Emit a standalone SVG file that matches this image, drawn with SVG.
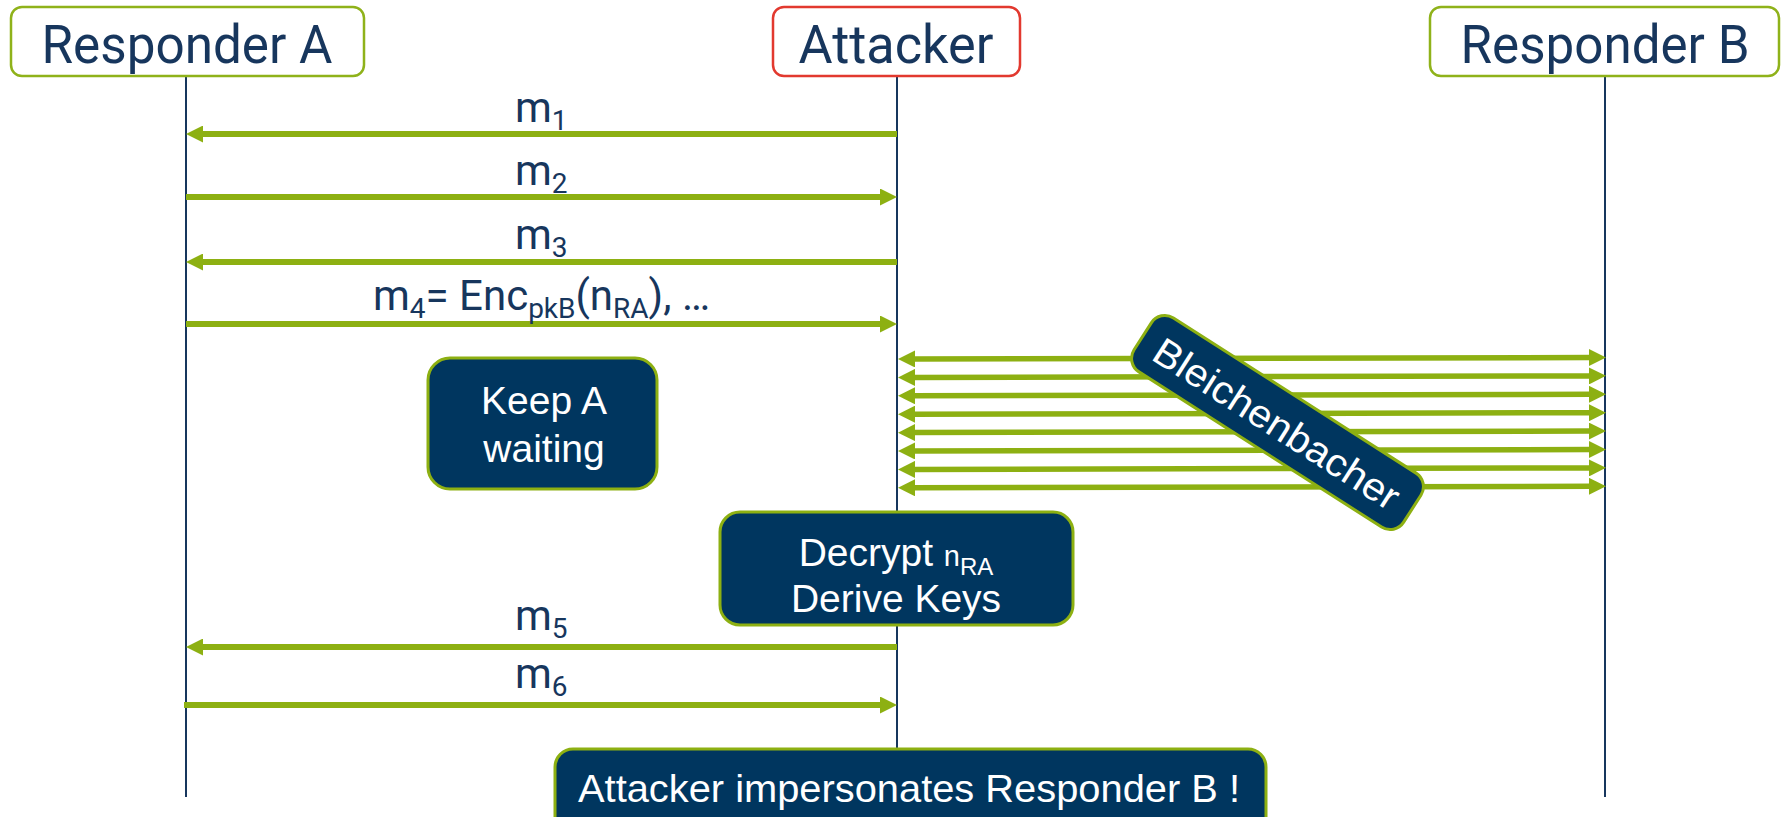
<svg xmlns="http://www.w3.org/2000/svg" width="1785" height="817" viewBox="0 0 1785 817">
  <style>
    .head { fill: #ffffff; stroke-width: 2.5; }
    .head-ok { stroke: #8fb21a; }
    .head-bad { stroke: #e2392f; }
    .head-text { font-family: Roboto, "Liberation Sans", sans-serif; font-size: 53px; fill: #17365d; text-anchor: middle; }
    .life { stroke: #17365d; stroke-width: 2; fill: none; }
    .msg { stroke: #8db012; stroke-width: 6; fill: none; marker-end: url(#tip); }
    .probe { stroke: #8db012; stroke-width: 5.5; fill: none; marker-start: url(#tip); marker-end: url(#tip); }
    .lbl { font-family: Roboto, "Liberation Sans", sans-serif; font-size: 42px; fill: #17365d; }
    .sub { font-size: 28px; }
    .note { fill: #00365f; stroke: #8db012; stroke-width: 3; }
    .note-text { font-family: "Liberation Sans", Arial, sans-serif; font-size: 39px; fill: #ffffff; text-anchor: middle; }
  </style>
  <defs>
    <marker id="tip" viewBox="0 0 17 17" markerWidth="17" markerHeight="17" markerUnits="userSpaceOnUse" refX="3" refY="8.5" orient="auto-start-reverse">
      <path d="M0,0 L17,8.5 L0,17 Z" fill="#8db012"/>
    </marker>
  </defs>

  <rect width="1785" height="817" fill="#ffffff"/>

  <!-- participants with their lifelines -->
  <g id="responder-a">
    <line class="life" x1="186" y1="76" x2="186" y2="797"/>
    <rect class="head head-ok" x="11" y="7" width="353" height="69" rx="11"/>
    <text class="head-text" x="187" y="63" textLength="291" lengthAdjust="spacingAndGlyphs">Responder A</text>
  </g>
  <g id="attacker">
    <line class="life" x1="897" y1="76" x2="897" y2="750"/>
    <rect class="head head-bad" x="773" y="7" width="247" height="69" rx="11"/>
    <text class="head-text" x="896" y="63" textLength="195" lengthAdjust="spacingAndGlyphs">Attacker</text>
  </g>
  <g id="responder-b">
    <line class="life" x1="1605" y1="76" x2="1605" y2="797"/>
    <rect class="head head-ok" x="1430" y="7" width="349" height="69" rx="11"/>
    <text class="head-text" x="1605" y="63" textLength="289" lengthAdjust="spacingAndGlyphs">Responder B</text>
  </g>

  <!-- messages -->
  <g id="connectors">
    <path class="msg" d="M897,134 L200,134"/>
    <path class="msg" d="M186,197 L883,197"/>
    <path class="msg" d="M897,262 L200,262"/>
    <path class="msg" d="M186,324 L883,324"/>
    <path class="msg" d="M897,647 L200,647"/>
    <path class="msg" d="M184,705 L883,705"/>

    <!-- oracle queries between Attacker and Responder B -->
    <path class="probe" d="M912,359 L1592,357.5"/>
    <path class="probe" d="M912,377.4 L1592,375.9"/>
    <path class="probe" d="M912,395.8 L1592,394.3"/>
    <path class="probe" d="M912,414.2 L1592,412.7"/>
    <path class="probe" d="M912,432.6 L1592,431.1"/>
    <path class="probe" d="M912,451 L1592,449.5"/>
    <path class="probe" d="M912,469.4 L1592,467.9"/>
    <path class="probe" d="M912,487.8 L1592,486.3"/>

    <text class="lbl" x="515" y="122">m<tspan class="sub" dy="8">1</tspan></text>
    <text class="lbl" x="515" y="185">m<tspan class="sub" dy="8">2</tspan></text>
    <text class="lbl" x="515" y="249">m<tspan class="sub" dy="8">3</tspan></text>
    <text class="lbl" x="373" y="310">m<tspan class="sub" dy="8">4</tspan><tspan dy="-8">= Enc</tspan><tspan class="sub" dy="8">pkB</tspan><tspan dy="-8">(n</tspan><tspan class="sub" dy="8">RA</tspan><tspan dy="-8">), …</tspan></text>
    <text class="lbl" x="515" y="630">m<tspan class="sub" dy="8">5</tspan></text>
    <text class="lbl" x="515" y="688">m<tspan class="sub" dy="8">6</tspan></text>
  </g>

  <!-- notes -->
  <g id="keep-a-waiting">
    <rect class="note" x="428" y="358" width="229" height="131" rx="22"/>
    <text class="note-text" x="544" y="414">Keep A</text>
    <text class="note-text" x="544" y="462">waiting</text>
  </g>

  <g id="bleichenbacher">
    <g transform="translate(1277.5,422.5) rotate(32.6)">
      <rect class="note" x="-160" y="-32" width="320" height="64" rx="16"/>
      <text class="note-text" x="0" y="15" font-size="41" textLength="284" lengthAdjust="spacingAndGlyphs">Bleichenbacher</text>
    </g>
  </g>

  <g id="decrypt">
    <rect class="note" x="720" y="512" width="353" height="113" rx="20"/>
    <text class="note-text" x="896" y="566">Decrypt <tspan font-size="29">n</tspan><tspan font-size="24" dy="9">RA</tspan></text>
    <text class="note-text" x="896" y="612">Derive Keys</text>
  </g>

  <g id="impersonation">
    <rect class="note" x="555" y="749" width="711" height="90" rx="18"/>
    <text class="note-text" x="909" y="802" font-size="42" textLength="662" lengthAdjust="spacingAndGlyphs">Attacker impersonates Responder B !</text>
  </g>
</svg>
